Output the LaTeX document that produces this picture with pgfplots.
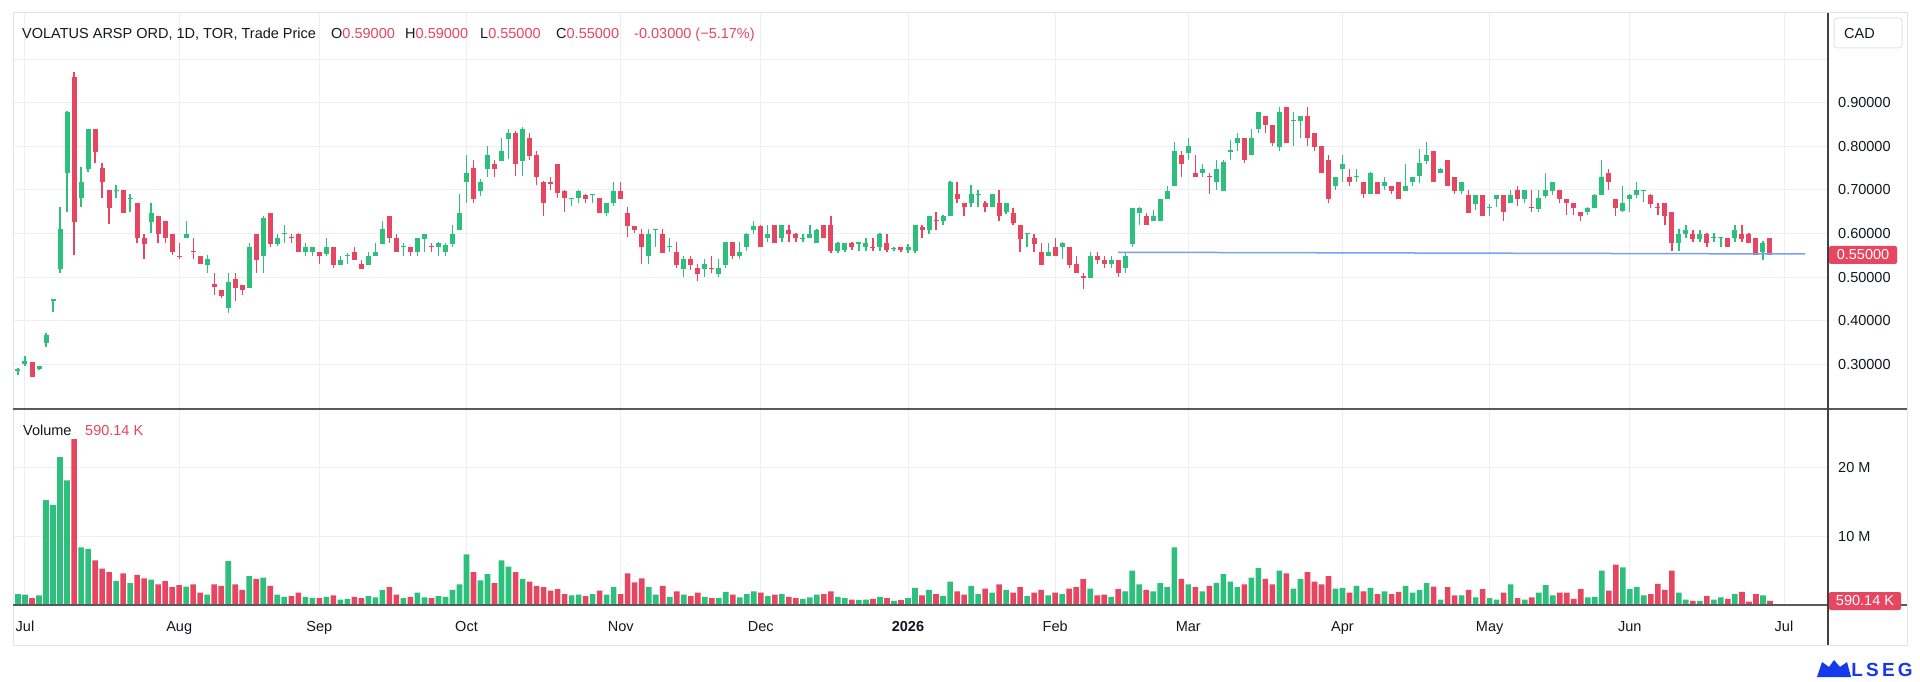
\documentclass[border=0pt]{standalone}
\usepackage{fontspec}
\setmainfont{Liberation Sans}
\usepackage{pgfplots}
\usepackage{pgfplotstable}
\pgfplotsset{compat=1.18}
\definecolor{upc}{RGB}{44,192,124}
\definecolor{downc}{RGB}{230,70,95}
\definecolor{txt}{RGB}{19,23,34}
\definecolor{gridc}{RGB}{238,239,243}
\definecolor{framec}{RGB}{224,227,235}
\definecolor{trend}{RGB}{120,160,245}
\definecolor{lsegblue}{RGB}{22,58,235}
\newcommand{\ff}{\fontsize{14.5pt}{17pt}\selectfont}

\pgfplotstableread{
i O H L C V
0 .285 .292 .275 .290 1.6
1 .300 .318 .295 .308 1.5
3 .289 .297 .287 .297 1.4
4 .350 .372 .340 .368 15.3
5 .445 .450 .420 .450 14.6
6 .519 .661 .510 .610 21.6
7 .738 .880 .650 .879 18.2
9 .681 .752 .661 .719 8.4
10 .749 .839 .740 .839 8.2
14 .698 .711 .682 .700 3.5
16 .680 .690 .650 .682 3.2
19 .627 .669 .600 .648 3.7
24 .589 .629 .589 .599 2.7
27 .528 .551 .510 .541 1.5
30 .430 .510 .418 .488 6.4
33 .475 .579 .475 .570 4.2
35 .548 .640 .510 .635 4.0
37 .577 .599 .571 .590 1.5
38 .598 .619 .579 .600 1.2
41 .558 .579 .549 .570 1.2
42 .557 .570 .549 .570 1.0
44 .553 .590 .548 .570 1.2
46 .528 .549 .528 .539 0.8
47 .548 .555 .530 .550 0.9
50 .528 .558 .528 .549 1.3
51 .548 .579 .548 .558 1.1
52 .577 .629 .577 .610 2.2
55 .569 .579 .549 .571 1.0
57 .557 .590 .549 .590 1.8
58 .588 .599 .558 .599 1.1
60 .570 .580 .549 .579 1.3
61 .558 .579 .549 .574 1.2
62 .577 .619 .570 .599 2.2
63 .609 .690 .609 .648 3.0
64 .717 .779 .671 .739 7.4
66 .697 .725 .687 .718 3.6
67 .749 .800 .730 .780 4.5
69 .767 .818 .767 .789 6.5
70 .817 .839 .770 .830 5.6
72 .767 .845 .731 .840 3.8
79 .680 .681 .662 .681 1.4
80 .681 .700 .671 .698 1.5
82 .688 .690 .671 .690 1.6
84 .647 .670 .641 .669 1.5
85 .669 .719 .662 .698 2.6
90 .548 .610 .530 .599 2.6
91 .608 .609 .570 .609 1.5
93 .569 .590 .558 .571 1.2
95 .519 .549 .501 .541 1.5
98 .519 .541 .501 .530 1.2
100 .507 .541 .501 .520 1.0
101 .528 .580 .520 .580 1.9
103 .548 .580 .541 .558 1.1
104 .568 .600 .560 .599 1.6
105 .609 .629 .599 .618 2.0
107 .589 .619 .580 .599 1.3
109 .589 .620 .580 .619 1.6
112 .588 .599 .580 .590 0.9
113 .589 .619 .589 .599 1.1
114 .578 .610 .578 .609 1.5
117 .560 .580 .555 .578 1.2
118 .562 .578 .558 .578 1.0
120 .577 .578 .560 .578 0.7
121 .568 .589 .560 .578 0.8
123 .568 .600 .560 .599 1.2
125 .565 .570 .560 .567 0.6
127 .562 .575 .555 .568 1.0
128 .560 .620 .555 .619 2.5
130 .609 .640 .599 .640 2.2
132 .629 .642 .619 .640 1.3
133 .640 .720 .640 .719 3.4
136 .669 .711 .660 .690 2.8
137 .689 .700 .661 .691 1.6
139 .660 .690 .660 .690 1.8
141 .650 .670 .645 .669 2.2
144 .598 .599 .570 .599 1.3
147 .548 .579 .548 .558 1.4
149 .568 .580 .541 .579 1.6
153 .499 .558 .499 .549 2.4
156 .531 .549 .520 .539 1.2
158 .520 .558 .510 .549 2.0
159 .577 .659 .570 .659 5.0
160 .648 .660 .619 .659 3.0
162 .629 .654 .629 .639 2.0
163 .629 .680 .629 .680 3.2
164 .680 .709 .680 .698 2.6
165 .709 .810 .709 .789 8.4
167 .784 .818 .769 .800 3.0
169 .739 .759 .730 .749 2.0
171 .719 .768 .700 .749 3.2
172 .698 .768 .698 .765 4.5
173 .788 .814 .768 .790 3.4
174 .808 .830 .789 .818 2.6
176 .779 .839 .779 .818 4.0
177 .839 .879 .830 .879 5.4
180 .799 .889 .789 .879 5.0
182 .858 .879 .801 .860 2.4
183 .859 .870 .818 .870 3.8
188 .709 .730 .700 .730 2.4
189 .749 .779 .719 .759 2.5
191 .729 .749 .719 .731 2.8
193 .690 .740 .690 .739 2.5
195 .709 .730 .700 .719 2.0
198 .698 .759 .698 .709 2.8
199 .719 .730 .709 .730 1.8
200 .731 .793 .715 .761 2.2
201 .767 .809 .760 .780 3.2
203 .738 .750 .738 .749 0.8
206 .697 .719 .690 .719 1.4
208 .667 .688 .655 .688 1.1
210 .659 .667 .639 .661 1.0
211 .679 .688 .660 .688 0.8
213 .669 .699 .669 .689 3.0
215 .679 .700 .669 .699 0.8
217 .657 .699 .649 .682 1.8
218 .687 .739 .682 .699 2.9
219 .697 .719 .689 .719 1.4
224 .649 .660 .642 .659 1.1
225 .659 .690 .659 .689 1.2
226 .689 .769 .689 .730 5.0
229 .652 .709 .649 .669 5.5
230 .679 .690 .649 .689 2.3
231 .689 .719 .682 .699 2.6
232 .698 .699 .672 .699 1.4
237 .578 .610 .560 .598 1.8
238 .598 .619 .590 .609 0.8
240 .588 .609 .580 .598 0.6
242 .589 .600 .580 .591 0.8
243 .589 .590 .570 .590 1.1
245 .590 .619 .580 .609 1.6
249 .558 .583 .540 .578 1.4
}\up

\pgfplotstableread{
i O H L C V
2 .305 .305 .272 .272 1.0
8 .958 .970 .551 .627 24.2
11 .839 .839 .761 .788 6.5
12 .751 .761 .682 .717 5.3
13 .699 .699 .622 .659 4.8
15 .699 .700 .648 .648 4.6
17 .669 .670 .579 .589 4.4
18 .590 .599 .541 .577 3.9
20 .640 .640 .579 .598 3.0
21 .629 .629 .579 .589 3.5
22 .599 .599 .551 .558 2.6
23 .549 .579 .541 .547 2.9
25 .559 .589 .541 .557 3.0
26 .549 .549 .529 .529 1.8
28 .484 .510 .459 .478 3.0
29 .470 .470 .451 .457 2.8
31 .495 .510 .446 .475 3.0
32 .483 .483 .460 .470 2.2
34 .599 .599 .510 .539 3.8
36 .648 .648 .570 .576 2.8
39 .591 .599 .579 .589 1.3
40 .599 .600 .557 .557 1.8
43 .557 .557 .530 .548 1.0
45 .570 .570 .522 .528 1.4
48 .557 .570 .539 .539 1.2
49 .529 .539 .518 .518 1.0
53 .640 .640 .579 .589 2.6
54 .590 .599 .557 .557 1.5
56 .570 .570 .549 .557 1.2
59 .571 .579 .558 .569 1.0
65 .750 .768 .671 .679 4.8
68 .759 .768 .730 .749 3.2
71 .830 .835 .731 .759 4.8
73 .820 .830 .768 .778 3.4
74 .780 .790 .711 .730 2.8
75 .719 .720 .641 .669 2.6
76 .719 .730 .700 .714 2.1
77 .759 .760 .681 .694 2.3
78 .698 .700 .650 .681 1.6
81 .688 .690 .671 .679 1.3
83 .681 .681 .647 .647 2.1
86 .698 .719 .679 .679 1.6
87 .648 .660 .591 .617 4.6
88 .618 .618 .600 .608 3.3
89 .599 .610 .530 .568 3.9
92 .599 .610 .556 .556 2.8
94 .558 .580 .522 .528 2.0
96 .541 .549 .516 .528 1.3
97 .520 .530 .490 .507 1.8
99 .521 .549 .510 .519 1.0
102 .580 .580 .541 .548 1.5
106 .618 .620 .568 .568 1.8
108 .619 .620 .578 .578 1.5
110 .609 .619 .580 .599 1.2
111 .599 .600 .580 .589 1.0
115 .619 .620 .589 .589 1.6
116 .619 .640 .555 .560 2.0
119 .578 .580 .562 .568 0.8
122 .569 .589 .560 .567 0.9
124 .578 .599 .558 .562 1.0
126 .570 .570 .558 .562 0.7
129 .614 .619 .589 .609 1.4
131 .630 .650 .609 .628 1.6
134 .690 .719 .671 .680 2.0
135 .669 .670 .640 .660 1.5
138 .669 .675 .650 .660 2.4
140 .669 .700 .629 .640 3.0
142 .648 .659 .619 .625 1.8
143 .619 .620 .558 .588 2.6
145 .590 .599 .558 .577 1.8
146 .558 .579 .528 .528 2.2
148 .570 .590 .548 .548 1.8
150 .570 .570 .522 .528 2.4
151 .529 .549 .509 .509 2.6
152 .501 .510 .472 .499 3.8
154 .549 .558 .530 .539 1.4
155 .539 .549 .520 .529 1.5
157 .539 .539 .501 .509 2.3
161 .639 .648 .619 .619 2.2
166 .779 .789 .730 .759 3.8
168 .739 .779 .729 .729 2.6
170 .731 .739 .690 .729 2.8
175 .818 .818 .761 .768 3.0
178 .870 .870 .830 .849 3.8
179 .849 .849 .800 .808 3.0
181 .889 .889 .808 .808 4.6
184 .870 .889 .801 .818 4.8
185 .830 .830 .789 .799 3.4
186 .800 .800 .738 .738 3.0
187 .768 .779 .669 .680 4.2
190 .730 .749 .708 .719 1.8
192 .719 .719 .681 .690 2.0
194 .719 .719 .690 .690 1.6
196 .709 .709 .690 .698 1.6
197 .719 .719 .680 .680 1.9
202 .789 .790 .717 .717 2.7
204 .768 .768 .709 .709 2.6
205 .730 .730 .690 .697 1.4
207 .688 .700 .648 .648 2.2
209 .688 .688 .639 .639 2.3
212 .689 .689 .629 .649 1.8
214 .699 .709 .662 .679 1.0
216 .660 .699 .649 .658 1.1
220 .699 .699 .669 .679 1.8
221 .679 .680 .642 .669 1.8
222 .669 .670 .642 .659 0.9
223 .649 .650 .629 .639 2.3
227 .739 .749 .699 .719 2.1
228 .679 .680 .639 .659 5.9
233 .689 .690 .659 .667 1.6
234 .660 .669 .642 .658 3.1
235 .669 .670 .619 .639 2.2
236 .649 .650 .560 .578 5.0
239 .598 .609 .580 .588 0.6
241 .598 .600 .570 .578 1.3
244 .590 .590 .570 .570 0.9
246 .598 .619 .580 .588 1.9
247 .598 .600 .578 .578 0.5
248 .590 .590 .550 .550 1.6
250 .590 .590 .550 .550 0.59
}\down

\begin{document}
\begin{tikzpicture}[x=1pt,y=1pt]
\path[use as bounding box] (0,0) rectangle (1920,681);
\fill[white] (0,0) rectangle (1920,681);

% ---------- price panel ----------
\begin{axis}[
  at={(13pt,272pt)}, anchor=south west, scale only axis,
  width=1815pt, height=396pt,
  xmin=-0.712, xmax=258.28, ymin=0.1975, ymax=1.1057,
  axis line style={draw=none}, tick style={draw=none}, major tick length=0pt,
  xtick={1,23,43,64,86,106,127,148,167,189,210,230,252}, xticklabels={},
  ytick={0.3,0.4,0.5,0.6,0.7,0.8,0.9,1.0},
  yticklabels={0.30000,0.40000,0.50000,0.60000,0.70000,0.80000,0.90000,{}},
  yticklabel pos=right,
  y tick label style={anchor=west, inner xsep=0pt, xshift=10pt, font=\ff, text=txt},
  grid=major, major grid style={draw=gridc, line width=1pt},
]
\addplot[draw=none, mark=none, forget plot, error bars/.cd, y dir=plus, y explicit, error mark=none,
  error bar style={draw=upc, line width=1.3pt}]
  table[x=i, y=L, y error expr={\thisrow{H}-\thisrow{L}}] {\up};
\addplot[draw=none, mark=none, forget plot, error bars/.cd, y dir=plus, y explicit, error mark=none,
  error bar style={draw=downc, line width=1.3pt}]
  table[x=i, y=L, y error expr={\thisrow{H}-\thisrow{L}}] {\down};
\addplot[draw=none, mark=none, forget plot, error bars/.cd, y dir=plus, y explicit, error mark=none,
  error bar style={draw=upc, line width=5pt, line cap=butt}]
  table[x=i, y=O, y error expr={max(\thisrow{C}-\thisrow{O},0.0025)}] {\up};
\addplot[draw=none, mark=none, forget plot, error bars/.cd, y dir=plus, y explicit, error mark=none,
  error bar style={draw=downc, line width=5pt, line cap=butt}]
  table[x=i, y=C, y error expr={max(\thisrow{O}-\thisrow{C},0.0025)}] {\down};
\addplot[trend, line width=1.5pt, mark=none] coordinates {(157,0.557) (255,0.553)};
\end{axis}

% ---------- volume panel ----------
\begin{axis}[
  at={(13pt,76pt)}, anchor=south west, scale only axis,
  width=1815pt, height=196pt,
  xmin=-0.712, xmax=258.28, ymin=0, ymax=28.61,
  axis line style={draw=none}, tick style={draw=none}, major tick length=0pt,
  xtick={1,23,43,64,86,106,127,148,167,189,210,230,252},
  xticklabels={Jul,Aug,Sep,Oct,Nov,Dec,\textbf{2026},Feb,Mar,Apr,May,Jun,Jul},
  x tick label style={anchor=north, inner ysep=0pt, yshift=-16pt, font=\ff, text=txt},
  ytick={10,20}, yticklabels={10 M,20 M},
  yticklabel pos=right,
  y tick label style={anchor=west, inner xsep=0pt, xshift=10pt, font=\ff, text=txt},
  grid=major, major grid style={draw=gridc, line width=1pt},
]
\addplot[ybar, bar width=5.6pt, bar shift=0pt, fill=upc, draw=none] table[x=i, y=V] {\up};
\addplot[ybar, bar width=5.6pt, bar shift=0pt, fill=downc, draw=none] table[x=i, y=V] {\down};
\end{axis}

% ---------- frame ----------
\draw[framec, line width=1pt] (13,36) rectangle (1907,668);
\draw[black!65, line width=1.5pt] (13,272) -- (1907,272);
\draw[black!65, line width=1.5pt] (13,76) -- (1907,76);
\draw[black!75, line width=1.3pt] (1828,36) -- (1828,668);

% ---------- header ----------
\node[anchor=base west, inner sep=0pt, font=\ff, text=txt] at (22,642) {VOLATUS ARSP ORD, 1D, TOR, Trade Price};
\node[anchor=base west, inner sep=0pt, font=\ff] at (331,642) {\textcolor{txt}{O}\textcolor{downc}{0.59000}};
\node[anchor=base west, inner sep=0pt, font=\ff] at (405,642) {\textcolor{txt}{H}\textcolor{downc}{0.59000}};
\node[anchor=base west, inner sep=0pt, font=\ff] at (480,642) {\textcolor{txt}{L}\textcolor{downc}{0.55000}};
\node[anchor=base west, inner sep=0pt, font=\ff] at (556,642) {\textcolor{txt}{C}\textcolor{downc}{0.55000}};
\node[anchor=base west, inner sep=0pt, font=\ff, text=downc] at (634,642) {-0.03000 (−5.17\%)};

% volume label
\node[anchor=base west, inner sep=0pt, font=\ff, text=txt] at (23,246) {Volume};
\node[anchor=base west, inner sep=0pt, font=\ff, text=downc] at (85,246) {590.14 K};

% CAD box
\draw[framec, line width=1pt, rounded corners=3pt, fill=white] (1834,633) rectangle (1902,663);
\node[anchor=base west, inner sep=0pt, font=\ff, text=txt] at (1844,642) {CAD};

% price tag
\fill[downc, rounded corners=2pt] (1829,417) rectangle (1897,435);
\node[anchor=center, inner sep=0pt, font=\ff, text=white] at (1863,426) {0.55000};
% volume tag
\fill[downc, rounded corners=2pt] (1829,71) rectangle (1901,89);
\node[anchor=center, inner sep=0pt, font=\ff, text=white] at (1865,80) {590.14 K};

% LSEG logo
\fill[lsegblue] (1817,4) -- (1822,19) -- (1829,14) -- (1834,21) -- (1840,14) -- (1847,19) -- (1851,4) -- cycle;
\node[anchor=center, inner sep=0pt, font=\fontsize{19pt}{20pt}\selectfont\bfseries, text=lsegblue] at (1882,11) {L\,S\,E\,G};
\end{tikzpicture}
\end{document}
